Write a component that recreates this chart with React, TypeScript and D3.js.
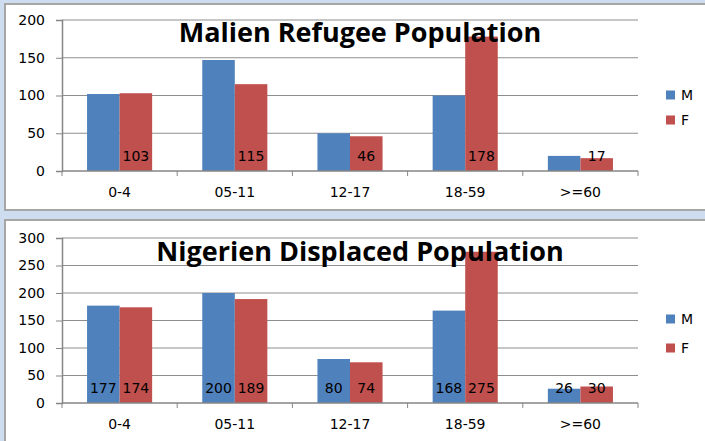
import * as d3 from 'd3';
import { useEffect, useRef } from 'react';

const ageGroups = ['0-4', '05-11', '12-17', '18-59', '>=60'];
const seriesNames = ['M', 'F'];

const malienM = [102, 147, 50, 100, 20];
const malienF = [103, 115, 46, 178, 17];

const nigerienM = [177, 200, 80, 168, 26];
const nigerienF = [174, 189, 74, 275, 30];

const malienTicks = [0, 50, 100, 150, 200];
const nigerienTicks = [0, 50, 100, 150, 200, 250, 300];

const COLORS = ['#4f81bd', '#c0504d'];
const FONT = '"DejaVu Sans", sans-serif';
const TITLE_FONT = '"Open Sans", sans-serif';

interface PanelCfg {
  title: string;
  m: number[];
  f: number[];
  ticks: number[];
  maxY: number;
  showM: boolean;
  box: { x: number; y: number; w: number; h: number };
  plot: { left: number; right: number; top: number; bottom: number };
  titleY: number;
  legendY: [number, number];
}

function drawPanel(svg: d3.Selection<SVGSVGElement, unknown, null, undefined>, cfg: PanelCfg) {
  const { plot } = cfg;

  svg.append('rect')
    .attr('x', cfg.box.x)
    .attr('y', cfg.box.y)
    .attr('width', cfg.box.w)
    .attr('height', cfg.box.h)
    .attr('fill', '#fff')
    .attr('stroke', '#a6a6a6')
    .attr('stroke-width', 2);

  const x0 = d3.scaleBand().domain(ageGroups).range([plot.left, plot.right]).padding(0);
  const x1 = d3.scaleBand().domain(seriesNames).range([0, x0.bandwidth()])
    .paddingInner(0).paddingOuter(0.77);
  const y = d3.scaleLinear().domain([0, cfg.maxY]).range([plot.bottom, plot.top]);

  // gridlines
  svg.append('g')
    .selectAll('line')
    .data(cfg.ticks.filter(t => t > 0))
    .enter()
    .append('line')
    .attr('x1', plot.left)
    .attr('x2', plot.right)
    .attr('y1', d => y(d))
    .attr('y2', d => y(d))
    .attr('stroke', '#8e8e8e')
    .attr('stroke-width', 1);

  // bars
  const rows = ageGroups.map((g, i) => ({ g, vals: [cfg.m[i], cfg.f[i]] }));
  const groups = svg.append('g')
    .selectAll('g')
    .data(rows)
    .enter()
    .append('g')
    .attr('transform', d => `translate(${x0(d.g)},0)`);

  groups.selectAll('rect')
    .data(d => d.vals.map((v, j) => ({ s: seriesNames[j], v, j })))
    .enter()
    .append('rect')
    .attr('x', d => x1(d.s) || 0)
    .attr('y', d => y(d.v))
    .attr('width', x1.bandwidth())
    .attr('height', d => plot.bottom - y(d.v))
    .attr('fill', d => COLORS[d.j]);

  // title goes under the value labels but over the bars
  svg.append('text')
    .attr('x', 360)
    .attr('y', cfg.titleY)
    .attr('text-anchor', 'middle')
    .style('font-family', TITLE_FONT)
    .style('font-weight', 'bold')
    .style('font-size', '27px')
    .style('fill', '#000')
    .text(cfg.title);

  groups.selectAll('text')
    .data(d => d.vals.map((v, j) => ({ s: seriesNames[j], v, j })).filter(d => cfg.showM || d.j === 1))
    .enter()
    .append('text')
    .attr('x', d => (x1(d.s) || 0) + x1.bandwidth() / 2)
    .attr('y', plot.bottom - 10)
    .attr('text-anchor', 'middle')
    .style('font-family', FONT)
    .style('font-size', '14px')
    .style('fill', '#000')
    .text(d => String(d.v));

  // y axis
  const yAxis = svg.append('g')
    .attr('transform', `translate(${plot.left},0)`)
    .call(d3.axisLeft(y).tickValues(cfg.ticks).tickSize(6).tickPadding(11));
  yAxis.select('.domain').attr('stroke', '#868686').attr('stroke-width', 1.5);
  yAxis.selectAll('line').attr('stroke', '#868686');
  yAxis.selectAll('text')
    .style('font-family', FONT)
    .style('font-size', '14px')
    .style('fill', '#000');

  // x axis: ticks at category boundaries
  const xAxis = svg.append('g')
    .attr('transform', `translate(0,${plot.bottom})`);
  xAxis.append('line')
    .attr('x1', plot.left)
    .attr('x2', plot.right)
    .attr('stroke', '#868686')
    .attr('stroke-width', 1.5);
  const bounds = ageGroups.map(g => x0(g) || 0).concat([plot.right]);
  xAxis.selectAll('line.tick')
    .data(bounds)
    .enter()
    .append('line')
    .attr('class', 'tick')
    .attr('x1', d => d)
    .attr('x2', d => d)
    .attr('y1', 0)
    .attr('y2', 5)
    .attr('stroke', '#868686');
  xAxis.selectAll('text')
    .data(ageGroups)
    .enter()
    .append('text')
    .attr('x', d => (x0(d) || 0) + x0.bandwidth() / 2)
    .attr('y', 26)
    .attr('text-anchor', 'middle')
    .style('font-family', FONT)
    .style('font-size', '14px')
    .style('fill', '#000')
    .text(d => d);

  // legend
  const legend = svg.append('g');
  seriesNames.forEach((s, i) => {
    legend.append('rect')
      .attr('x', 666)
      .attr('y', cfg.legendY[i] - 4.5)
      .attr('width', 9)
      .attr('height', 9)
      .attr('fill', COLORS[i]);
    legend.append('text')
      .attr('x', 681)
      .attr('y', cfg.legendY[i] + 5)
      .style('font-family', FONT)
      .style('font-size', '14px')
      .style('fill', '#000')
      .text(s);
  });
}

export default function App() {
  const svgRef = useRef<SVGSVGElement>(null);

  useEffect(() => {
    if (!svgRef.current) return;
    const svg = d3.select(svgRef.current);
    svg.selectAll('*').remove();

    svg.append('rect')
      .attr('width', 705)
      .attr('height', 441)
      .attr('fill', '#cddcee');

    drawPanel(svg, {
      title: 'Malien Refugee Population',
      m: malienM,
      f: malienF,
      ticks: malienTicks,
      maxY: 200,
      showM: false,
      box: { x: 5, y: 4, w: 710, h: 206 },
      plot: { left: 62, right: 638, top: 20, bottom: 171 },
      titleY: 42,
      legendY: [95, 120],
    });

    drawPanel(svg, {
      title: 'Nigerien Displaced Population',
      m: nigerienM,
      f: nigerienF,
      ticks: nigerienTicks,
      maxY: 300,
      showM: true,
      box: { x: 5, y: 220, w: 710, h: 240 },
      plot: { left: 62, right: 638, top: 238, bottom: 403 },
      titleY: 261,
      legendY: [319, 348],
    });
  }, []);

  return (
    <svg
      ref={svgRef}
      width={705}
      height={441}
      style={{ position: 'absolute', left: 0, top: 0, display: 'block' }}
    />
  );
}
